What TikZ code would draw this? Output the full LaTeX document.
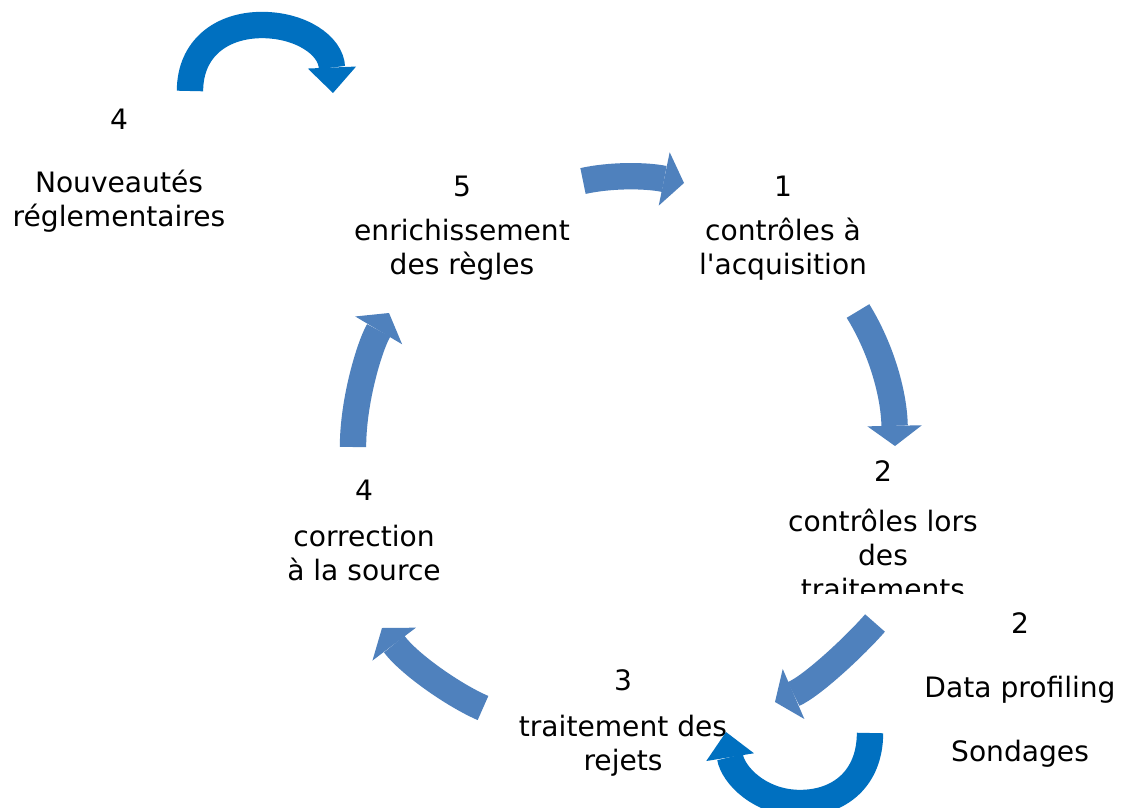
\documentclass[tikz,border=0pt]{standalone}
\usepackage{fontspec}
\setmainfont{DejaVu Sans}[Ligatures=TeXOff]
\usetikzlibrary{arrows.meta}
\definecolor{lightarr}{HTML}{4F81BD}
\definecolor{darkarr}{HTML}{0070C0}
\begin{document}
\begin{tikzpicture}[x=0.02cm,y=-0.02cm,
  lbl/.style={align=center,inner sep=0pt,anchor=north,font=\fontsize{16}{19.3}\selectfont},
  cyc/.style={draw=lightarr,line width=15pt,-{Triangle[width=31pt,length=11.5pt,line width=0pt]}},
  loopy/.style={draw=darkarr,line width=15pt,-{Triangle[width=27.5pt,length=14.5pt,line width=0pt]}}]
\clip (0,0) rectangle (1126,808);
\fill[white] (0,0) rectangle (1126,808);

% text blocks
\node[lbl] (n4a) at (119,108.4) {4\\[16.8pt]Nouveautés\\réglementaires};
\node[lbl] (n5) at (462,175.4) {5\\[6pt]enrichissement\\des règles};
\node[lbl] (n1) at (783,175.4) {1\\[6pt]contrôles à\\l'acquisition};
\begin{scope}
  \clip (700,440) rectangle (1050,593);
  \node[lbl] (n2) at (883,460.4) {2\\[9.3pt]contrôles lors\\des\\traitements};
\end{scope}
\node[lbl] (n2b) at (1020,612.4) {2\\[17.3pt]Data profiling\\[17pt]Sondages};
\node[lbl] (n3) at (623,669.4) {3\\[6.8pt]traitement des\\rejets};
\node[lbl] (n4) at (364,480.1) {4\\[6.8pt]correction\\à la source};

% cycle arrows
\coordinate (a5s) at (583,181); \coordinate (a5e) at (684,183);
\draw[cyc] (a5s) .. controls (610,175) and (645,175) .. (a5e);
\coordinate (a1s) at (858,311); \coordinate (a1e) at (895,446);
\draw[cyc] (a1s) .. controls (882,350) and (894,395) .. (a1e);
\coordinate (a2s) at (875,623); \coordinate (a2e) at (775,702);
\draw[cyc] (a2s) .. controls (855,646) and (812,686) .. (a2e);
\coordinate (a3s) at (483,708); \coordinate (a3e) at (382,628);
\draw[cyc] (a3s) .. controls (455,696) and (410,665) .. (a3e);
\coordinate (a4s) at (353,447); \coordinate (a4e) at (389,313);
\draw[cyc] (a4s) .. controls (353,400) and (370,345) .. (a4e);

% loop arrows
\coordinate (ls1) at (190,91); \coordinate (lm1) at (262,25); \coordinate (le1) at (333,93);
\draw[loopy] (ls1) .. controls (190,48) and (222,25) .. (lm1) .. controls (300,25) and (331,45) .. (le1);
\coordinate (ls2) at (870,733); \coordinate (lm2) at (800,803); \coordinate (le2) at (726,732);
\draw[loopy] (ls2) .. controls (870,778) and (840,803) .. (lm2) .. controls (760,803) and (733,775) .. (le2);
\end{tikzpicture}
\end{document}
